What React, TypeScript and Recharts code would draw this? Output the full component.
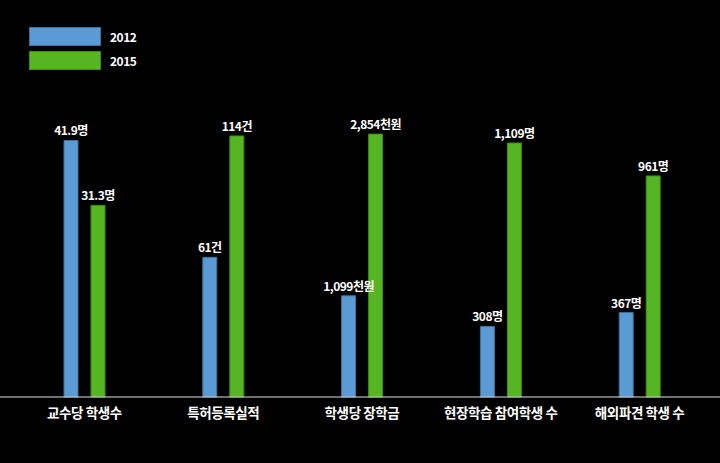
import React from 'react';
import { BarChart, Bar, XAxis, YAxis, LabelList } from 'recharts';

const categories = ['교수당 학생수', '특허등록실적', '학생당 장학금', '현장학습 참여학생 수', '해외파견 학생 수'];
const values2012 = [41.9, 61, 1099, 308, 367];
const values2015 = [31.3, 114, 2854, 1109, 961];
const labels2012 = ['41.9명', '61건', '1,099천원', '308명', '367명'];
const labels2015 = ['31.3명', '114건', '2,854천원', '1,109명', '961명'];
// each category is drawn on its own scale (value at the top of the plot)
const categoryScaleMax = [49, 131, 3257, 1310, 1304];
const seriesNames = ['2012', '2015'];
const seriesColors = ['#5B9BD5', '#55B522'];
const seriesStrokes = ['#41719C', '#3E8A18'];

const data = categories.map((name, i) => ({
  name,
  v2012: values2012[i] / categoryScaleMax[i],
  v2015: values2015[i] / categoryScaleMax[i],
  l2012: labels2012[i],
  l2015: labels2015[i],
}));

const FONT = '"Noto Sans CJK KR", "Noto Sans", sans-serif';

const LegendBox = () => (
  <div style={{ position: 'absolute', left: 29, top: 27, fontFamily: FONT }}>
    {seriesNames.map((n, i) => (
      <div key={n} style={{ display: 'flex', alignItems: 'center', height: 19, marginBottom: 5 }}>
        <div
          style={{
            width: 70,
            height: 17,
            background: seriesColors[i],
            border: `1px solid ${seriesStrokes[i]}`,
          }}
        />
        <span style={{ color: '#fff', fontSize: 12, marginLeft: 9, fontWeight: 'bold', letterSpacing: -0.5 }}>{n}</span>
      </div>
    ))}
  </div>
);

export default function App() {
  return (
    <div style={{ position: 'absolute', left: 0, top: 0, width: 720, height: 463, background: '#000' }}>
      <BarChart
        width={720}
        height={463}
        data={data}
        margin={{ top: 97, right: 0, left: 0, bottom: 0 }}
        barSize={14}
        barGap={13}
      >
        <YAxis hide width={0} domain={[0, 1]} />
        <XAxis
          dataKey="name"
          height={66}
          padding={{ left: 15, right: 11 }}
          axisLine={{ stroke: '#e0e0e0', strokeWidth: 1 }}
          tickLine={false}
          tickMargin={5}
          interval={0}
          tick={{ fill: '#ffffff', fontSize: 13.5, fontFamily: FONT, fontWeight: 'bold', letterSpacing: -0.4 }}
        />
        <Bar dataKey="v2012" name="2012" fill={seriesColors[0]} stroke={seriesStrokes[0]} strokeWidth={1} isAnimationActive={false}>
          <LabelList dataKey="l2012" position="top" offset={5} fill="#ffffff" fontSize={12} fontFamily={FONT} fontWeight="bold" letterSpacing={-0.5} />
        </Bar>
        <Bar dataKey="v2015" name="2015" fill={seriesColors[1]} stroke={seriesStrokes[1]} strokeWidth={1} isAnimationActive={false}>
          <LabelList dataKey="l2015" position="top" offset={5} fill="#ffffff" fontSize={12} fontFamily={FONT} fontWeight="bold" letterSpacing={-0.5} />
        </Bar>
      </BarChart>
      <LegendBox />
    </div>
  );
}
